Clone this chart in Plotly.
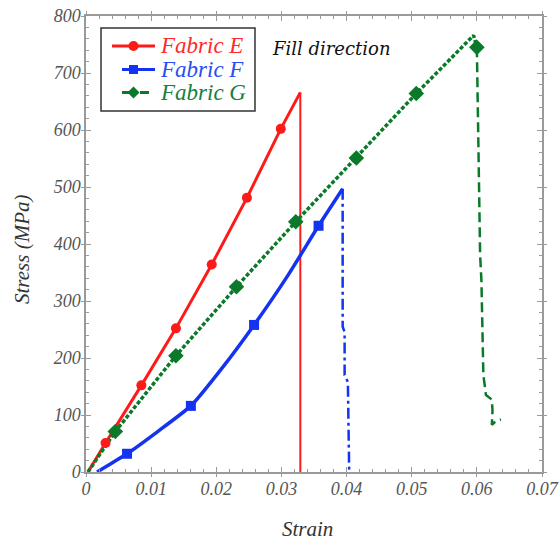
import plotly.graph_objects as go

# Fabric E: rising branch, markers and brittle failure
E_strain = [0.0003, 0.0030, 0.0085, 0.0138, 0.0193, 0.0247, 0.0299, 0.0329]
E_stress = [0, 51, 152, 252, 364, 481, 602, 666]
E_mark_idx = [1, 2, 3, 4, 5, 6]
E_drop_strain = [0.0329, 0.0329]
E_drop_stress = [666, 0]

# Fabric F
F_strain = [0.0017, 0.0040, 0.0063, 0.0110, 0.0161, 0.0210, 0.0258, 0.0310, 0.0357, 0.0394]
F_stress = [0, 16, 32, 71, 116, 184, 258, 345, 432, 497]
F_mark_idx = [2, 4, 6, 8]
F_drop_strain = [0.0394, 0.0394, 0.0397, 0.0397, 0.0402, 0.0404]
F_drop_stress = [497, 255, 245, 170, 158, 0]

# Fabric G
G_strain = [0.0003, 0.0045, 0.0138, 0.0231, 0.0322, 0.0415, 0.0507, 0.0595, 0.0600]
G_stress = [0, 71, 204, 325, 439, 551, 664, 766, 745]
G_mark_idx = [1, 2, 3, 4, 5, 6, 8]
G_drop_strain = [0.0600, 0.0605, 0.0607, 0.0610, 0.0614, 0.0623, 0.0624, 0.0623, 0.0629, 0.0637]
G_drop_stress = [745, 381, 336, 170, 135, 127, 108, 83, 89, 92]

series_names = ["Fabric E", "Fabric F", "Fabric G"]

RED = "#ff1a1a"
BLUE = "#1433f0"
GREEN = "#0a7a2a"
TXT_COLORS = ["#ff2a2a", "#2a4ef0", "#158040"]

x_ticks = [0, 0.01, 0.02, 0.03, 0.04, 0.05, 0.06, 0.07]
x_labels = ["0", "0.01", "0.02", "0.03", "0.04", "0.05", "0.06", "0.07"]
y_ticks = [0, 100, 200, 300, 400, 500, 600, 700, 800]

SERIF = "Liberation Serif"
AX = "#9a9a9a"

fig = go.Figure()


def pick(vals, idx):
    return [vals[i] for i in idx]


# curves
fig.add_trace(go.Scatter(x=E_strain, y=E_stress, mode="lines",
                         line=dict(color=RED, width=3), showlegend=False))
fig.add_trace(go.Scatter(x=E_drop_strain, y=E_drop_stress, mode="lines",
                         line=dict(color=RED, width=2), showlegend=False))
fig.add_trace(go.Scatter(x=F_strain, y=F_stress, mode="lines",
                         line=dict(color=BLUE, width=3.5, shape="spline", smoothing=0.5),
                         showlegend=False))
fig.add_trace(go.Scatter(x=F_drop_strain, y=F_drop_stress, mode="lines",
                         line=dict(color=BLUE, width=2.5, dash="11px,4px,3px,4px"),
                         showlegend=False))
fig.add_trace(go.Scatter(x=G_strain, y=G_stress, mode="lines",
                         line=dict(color=GREEN, width=3.5, dash="4px,2px"),
                         showlegend=False))
fig.add_trace(go.Scatter(x=G_drop_strain, y=G_drop_stress, mode="lines",
                         line=dict(color=GREEN, width=2.5, dash="10px,5px"),
                         showlegend=False))

# markers
fig.add_trace(go.Scatter(x=pick(E_strain, E_mark_idx), y=pick(E_stress, E_mark_idx),
                         mode="markers", marker=dict(symbol="circle", size=10, color=RED),
                         showlegend=False))
fig.add_trace(go.Scatter(x=pick(F_strain, F_mark_idx), y=pick(F_stress, F_mark_idx),
                         mode="markers", marker=dict(symbol="square", size=10, color=BLUE),
                         showlegend=False))
fig.add_trace(go.Scatter(x=pick(G_strain, G_mark_idx), y=pick(G_stress, G_mark_idx),
                         mode="markers", marker=dict(symbol="diamond", size=12, color=GREEN),
                         showlegend=False))

# invisible trace to activate the overlay axes (outer halves of major ticks)
fig.add_trace(go.Scatter(x=[0], y=[0], xaxis="x2", yaxis="y2", mode="markers",
                         marker=dict(opacity=0), showlegend=False, hoverinfo="skip"))

# legend box drawn in paper coordinates (plot area is 456 x 456 px)
W = 456.0


def px(v):
    return v / W


shapes = []
annotations = []
box_l, box_r, box_t, box_b = px(15), px(169), 1 - px(12), 1 - px(95)
shapes.append(dict(type="rect", xref="paper", yref="paper", x0=box_l, x1=box_r,
                   y0=box_b, y1=box_t, line=dict(color="#333333", width=1.5),
                   fillcolor="white", layer="above"))
row_y = [1 - px(30), 1 - px(53.5), 1 - px(76.5)]
line_x0 = [px(26), px(36), px(36)]
line_x1 = px(69)
mark_x = px(47.5)
dashes = ["solid", "solid", "dash"]
colors = [RED, BLUE, GREEN]
for i, name in enumerate(series_names):
    y = row_y[i]
    shapes.append(dict(type="line", xref="paper", yref="paper", x0=line_x0[i], x1=line_x1,
                       y0=y, y1=y, line=dict(color=colors[i], width=3, dash=dashes[i]),
                       layer="above"))
    annotations.append(dict(text=name, x=px(72), y=y, xref="paper", yref="paper",
                            xanchor="left", yanchor="middle", showarrow=False,
                            font=dict(family=SERIF, size=23, color=TXT_COLORS[i], style="italic")))
# legend symbols: circle, square, diamond
r = px(5)
shapes.append(dict(type="circle", xref="paper", yref="paper", x0=mark_x - r, x1=mark_x + r,
                   y0=row_y[0] - r, y1=row_y[0] + r, fillcolor=RED, line=dict(width=0),
                   layer="above"))
s = px(4.5)
shapes.append(dict(type="rect", xref="paper", yref="paper", x0=mark_x - s, x1=mark_x + s,
                   y0=row_y[1] - s, y1=row_y[1] + s, fillcolor=BLUE, line=dict(width=0),
                   layer="above"))
d = px(6)
yg = row_y[2]
shapes.append(dict(type="path", xref="paper", yref="paper",
                   path=f"M {mark_x - d} {yg} L {mark_x} {yg + d} L {mark_x + d} {yg} L {mark_x} {yg - d} Z",
                   fillcolor=GREEN, line=dict(width=0), layer="above"))

annotations += [
    dict(text="Fill direction", x=px(245), y=1 - px(32), xref="paper", yref="paper",
         xanchor="center", yanchor="middle", showarrow=False,
         font=dict(family="DejaVu Serif", size=18, color="#111111", style="italic")),
    dict(text="Strain", x=px(221), y=-px(57), xref="paper", yref="paper",
         xanchor="center", yanchor="middle", showarrow=False,
         font=dict(family=SERIF, size=21, color="#333333", style="italic")),
    dict(text="Stress (MPa)", x=-px(64), y=px(222), xref="paper", yref="paper",
         xanchor="center", yanchor="middle", textangle=-90, showarrow=False,
         font=dict(family=SERIF, size=21, color="#333333", style="italic")),
]

common = dict(showgrid=False, zeroline=False, showline=True, linecolor=AX, linewidth=1.5,
              mirror="allticks", ticks="inside", ticklen=5, tickcolor=AX, tickwidth=1.2,
              automargin=False)
overlay = dict(showticklabels=False, showgrid=False, zeroline=False, showline=False,
               ticks="outside", ticklen=4, tickcolor=AX, tickwidth=1.2, mirror="allticks",
               automargin=False)

fig.update_layout(
    width=560, height=545,
    margin=dict(l=86, r=18, t=16, b=73, autoexpand=False),
    plot_bgcolor="white", paper_bgcolor="white",
    showlegend=False,
    xaxis=dict(range=[0, 0.07], tickvals=x_ticks, ticktext=x_labels,
               tickfont=dict(family=SERIF, size=18, color="#555555", style="italic"),
               minor=dict(ticks="inside", ticklen=3, dtick=0.002, tickcolor=AX, tickwidth=1),
               **common),
    yaxis=dict(range=[0, 800], tickvals=y_ticks,
               tickfont=dict(family=SERIF, size=18, color="#555555", style="italic"),
               minor=dict(ticks="inside", ticklen=3, dtick=20, tickcolor=AX, tickwidth=1),
               **common),
    xaxis2=dict(overlaying="x", matches="x", range=[0, 0.07], tickvals=x_ticks, **overlay),
    yaxis2=dict(overlaying="y", matches="y", range=[0, 800], tickvals=y_ticks, **overlay),
    shapes=shapes,
    annotations=annotations,
)

fig.write_html("out.html")
